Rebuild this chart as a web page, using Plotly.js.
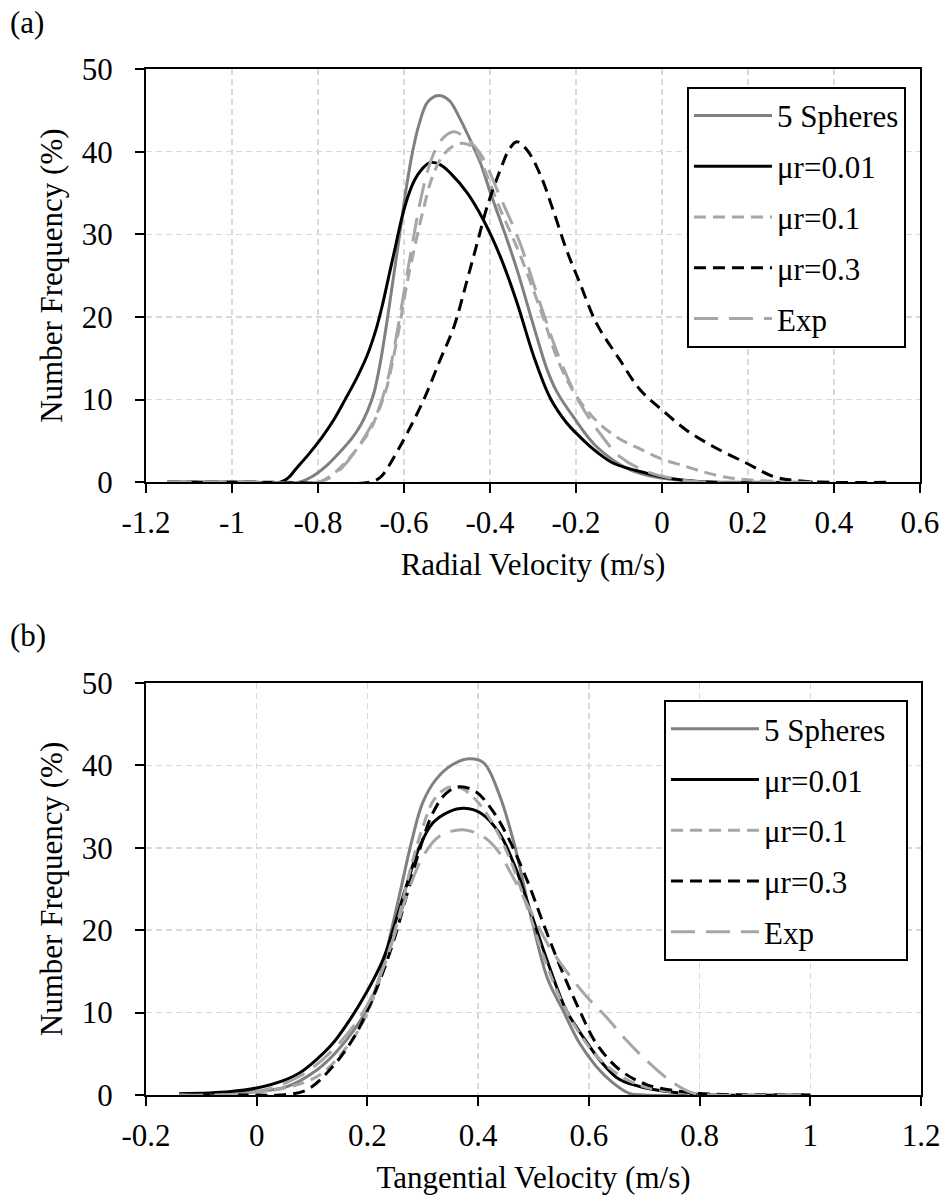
<!DOCTYPE html>
<html>
<head>
<meta charset="utf-8">
<script src="https://cdn.plot.ly/plotly-3.0.1.min.js"></script>
<style>
html,body{margin:0;padding:0;background:#fff;}
#chart{width:944px;height:1196px;}
</style>
</head>
<body>
<div id="chart"></div>
<script>
// ---------- DATA ----------
const seriesNames = ["5 Spheres", "\u03bcr=0.01", "\u03bcr=0.1", "\u03bcr=0.3", "Exp"];

// (a) Radial velocity
const radSph5X = [-1.15,-0.95,-0.845,-0.81,-0.78,-0.75,-0.72,-0.70,-0.685,-0.67,-0.655,-0.638,-0.624,-0.61,-0.595,-0.58,-0.565,-0.545,-0.52,-0.495,-0.47,-0.453,-0.422,-0.399,-0.368,-0.337,-0.298,-0.267,-0.245,-0.206,-0.152,-0.074,0.0,0.08,0.2,0.35];
const radSph5Y = [0,0,0,0.8,2.0,3.6,5.4,7.0,8.6,10.8,14.5,20,25,30,35.5,40,43.3,46,46.8,46.2,44,42.2,38.6,35,30.5,25.7,18.8,13.6,11,7.9,4.3,1.5,0.5,0.1,0,0];

const radMu001X = [-1.15,-0.95,-0.888,-0.87,-0.85,-0.82,-0.79,-0.764,-0.737,-0.71,-0.686,-0.665,-0.65,-0.635,-0.62,-0.605,-0.59,-0.575,-0.558,-0.539,-0.515,-0.492,-0.453,-0.415,-0.376,-0.337,-0.298,-0.26,-0.222,-0.191,-0.15,-0.113,-0.036,0.042,0.12,0.35];
const radMu001Y = [0,0,0,0.5,1.7,3.5,5.5,7.5,10,12.6,15.3,18.5,21.5,25,28.5,32,34.7,36.6,37.9,38.7,38.4,37.4,35,31.7,27.3,21.7,15.2,10.2,7.2,5.5,3.6,2.3,1.1,0.3,0,0];

const radMu01X = [-1.15,-0.95,-0.80,-0.77,-0.74,-0.71,-0.68,-0.66,-0.64,-0.625,-0.61,-0.595,-0.575,-0.555,-0.535,-0.51,-0.485,-0.46,-0.435,-0.41,-0.38,-0.33,-0.28,-0.24,-0.2,-0.15,-0.1,-0.05,0.0,0.05,0.1,0.15,0.2,0.3,0.4];
const radMu01Y = [0,0,0,0.8,2.2,4.0,6.2,8.5,11.5,15,19,23.5,28.5,33,36.8,39.5,40.7,41,40.3,37.5,33.5,27.5,20.5,14.5,10.5,7.3,5.3,4,2.8,2,1.2,0.6,0.3,0.05,0];

const radMu03X = [-1.15,-0.9,-0.68,-0.655,-0.635,-0.615,-0.593,-0.554,-0.516,-0.484,-0.453,-0.43,-0.407,-0.376,-0.355,-0.338,-0.314,-0.283,-0.253,-0.222,-0.191,-0.152,-0.098,-0.051,0.0,0.057,0.12,0.197,0.259,0.313,0.39,0.53];
const radMu03Y = [0,0,0,0.6,2.0,3.8,5.9,10,14.8,18.8,24.5,28.9,33.3,37.8,40.3,41.2,40.2,37.2,32.9,28.1,24.1,19.2,14.8,11.2,8.75,6.3,4.3,2.3,0.7,0.2,0,0];

const radExpX = [-1.15,-0.95,-0.80,-0.77,-0.74,-0.71,-0.68,-0.66,-0.64,-0.62,-0.60,-0.58,-0.56,-0.54,-0.515,-0.485,-0.46,-0.423,-0.377,-0.33,-0.284,-0.237,-0.191,-0.144,-0.098,-0.036,0.042,0.12,0.35];
const radExpY = [0,0,0,0.6,2.0,4.0,6.5,8.7,12,17,23,29,34.5,38.5,41.3,42.4,41.8,39.8,34.6,28.9,21.7,14.8,9.6,5.9,3.1,1.3,0.3,0,0];

// (b) Tangential velocity
const tanSph5X = [-0.14,-0.05,0,0.054,0.108,0.15,0.2,0.225,0.245,0.262,0.28,0.3,0.324,0.354,0.384,0.41,0.438,0.465,0.495,0.525,0.553,0.583,0.613,0.643,0.673,0.7,1.0];
const tanSph5Y = [0.1,0.2,0.45,1.0,3.0,5.7,10.5,15,20.5,25.5,30.8,35.5,38.3,40.1,40.8,40.3,36.5,30.5,21.8,14.2,10.3,6.3,3.5,1.5,0.2,0,0];

const tanMu001X = [-0.14,-0.05,0,0.054,0.078,0.108,0.138,0.168,0.198,0.228,0.246,0.27,0.294,0.318,0.348,0.375,0.405,0.438,0.468,0.498,0.529,0.559,0.589,0.619,0.655,0.703,0.764,0.824,1.0];
const tanMu001Y = [0.15,0.4,0.85,1.9,2.7,4.3,6.3,9.1,12.4,16.4,20,25.3,30.1,33,34.4,34.8,34.2,31.8,27.5,21.6,15.5,10.3,7.1,4.3,1.9,0.85,0.25,0,0];

const tanMu01X = [-0.14,0,0.108,0.168,0.2,0.25,0.28,0.3,0.32,0.345,0.37,0.40,0.43,0.46,0.49,0.52,0.55,0.58,0.62,0.66,0.7,0.75,0.8,0.9,1.0];
const tanMu01Y = [0,0.3,2.2,6.3,10,20,28,32.5,35.8,37.3,37.2,35.5,32.5,28.2,22.5,16.5,11.5,7.8,4.3,2.2,1.0,0.4,0.1,0,0];

const tanMu03X = [-0.14,0,0.042,0.09,0.138,0.18,0.216,0.246,0.27,0.294,0.318,0.342,0.366,0.396,0.426,0.453,0.49,0.52,0.553,0.583,0.613,0.655,0.703,0.764,0.824,0.9,1.0];
const tanMu03Y = [0,0,0,0.6,3.5,7.5,12.8,18.4,24,29.7,34.2,36.6,37.4,36.8,34.5,31.4,25.8,20.4,14.8,10.3,6.3,3.1,1.3,0.45,0.1,0,0];

const tanExpX = [-0.14,0,0.078,0.138,0.198,0.24,0.27,0.3,0.33,0.372,0.408,0.435,0.46,0.495,0.525,0.553,0.595,0.631,0.667,0.709,0.752,0.788,0.824,1.0];
const tanExpY = [0,0.4,2.3,5.5,10.7,17.6,24,28.9,31.4,32.2,31.4,29.7,26.8,22.3,18.4,15.6,12,9.5,6.7,3.9,1.5,0.25,0,0];

// Tick labels
const radTickVals = [-1.2,-1,-0.8,-0.6,-0.4,-0.2,0,0.2,0.4,0.6];
const radTickText = ["-1.2","-1","-0.8","-0.6","-0.4","-0.2","0","0.2","0.4","0.6"];
const tanTickVals = [-0.2,0,0.2,0.4,0.6,0.8,1,1.2];
const tanTickText = ["-0.2","0","0.2","0.4","0.6","0.8","1","1.2"];
const freqTickVals = [0,10,20,30,40,50];
const freqTickText = ["0","10","20","30","40","50"];

// ---------- STYLE ----------
const FONT = "Liberation Serif";
const FS = 31;
const styles = [
  {color:"#808080", dash:"solid"},
  {color:"#000000", dash:"solid"},
  {color:"#a6a6a6", dash:"12px,7px"},
  {color:"#000000", dash:"12px,7px"},
  {color:"#a6a6a6", dash:"24px,11px"}
];

const radSets = [[radSph5X,radSph5Y],[radMu001X,radMu001Y],[radMu01X,radMu01Y],[radMu03X,radMu03Y],[radExpX,radExpY]];
const tanSets = [[tanSph5X,tanSph5Y],[tanMu001X,tanMu001Y],[tanMu01X,tanMu01Y],[tanMu03X,tanMu03Y],[tanExpX,tanExpY]];

const traces = [];
radSets.forEach((s,i)=>{
  traces.push({x:s[0], y:s[1], type:"scatter", mode:"lines", name:seriesNames[i],
    xaxis:"x", yaxis:"y", legend:"legend", legendgroup:"a"+i,
    line:{color:styles[i].color, dash:styles[i].dash, width:3, shape:"spline", smoothing:1}});
});
tanSets.forEach((s,i)=>{
  traces.push({x:s[0], y:s[1], type:"scatter", mode:"lines", name:seriesNames[i] + (i===0 ? "\u00a0\u00a0" : ""),
    xaxis:"x2", yaxis:"y2", legend:"legend2", legendgroup:"b"+i,
    line:{color:styles[i].color, dash:styles[i].dash, width:3, shape:"spline", smoothing:1}});
});

const tf = {family:FONT, size:FS, color:"#000"};
const gridCommon = {showgrid:true, gridcolor:"#d9d9d9", gridwidth:1.5, griddash:"6px,4px", zeroline:false,
  showline:true, linecolor:"#000", linewidth:2, mirror:true, ticks:"outside", ticklen:9, tickwidth:2, tickcolor:"#000",
  tickfont:tf};
const crossCommon = {showgrid:false, zeroline:false, showline:false, ticks:"inside", ticklen:9, tickwidth:2,
  tickcolor:"#000", showticklabels:false, tickmode:"array"};

const layout = {
  width:944, height:1196,
  margin:{l:146, r:23, t:69, b:101},
  paper_bgcolor:"#fff", plot_bgcolor:"#fff",
  font:tf,
  showlegend:true,
  xaxis:Object.assign({}, gridCommon, {domain:[0,0.9987], anchor:"y", range:[-1.2,0.6], tickmode:"array",
    tickvals:radTickVals, ticktext:radTickText, ticklabelstandoff:3,
    title:{text:"Radial Velocity (m/s)", font:tf, standoff:14}}),
  yaxis:Object.assign({}, gridCommon, {domain:[0.5972,1], anchor:"x", range:[0,50], tickmode:"array",
    tickvals:freqTickVals, ticktext:freqTickText, ticklabelstandoff:16,
    title:{text:"Number Frequency (%)", font:tf, standoff:10}}),
  xaxis2:Object.assign({}, gridCommon, {domain:[0,1], anchor:"y2", range:[-0.2,1.2], tickmode:"array",
    tickvals:tanTickVals, ticktext:tanTickText, ticklabelstandoff:3,
    title:{text:"Tangential Velocity (m/s)", font:tf, standoff:14}}),
  yaxis2:Object.assign({}, gridCommon, {domain:[0,0.4016], anchor:"x2", range:[0,50], tickmode:"array",
    tickvals:freqTickVals, ticktext:freqTickText, ticklabelstandoff:16,
    title:{text:"Number Frequency (%)", font:tf, standoff:10}}),
  xaxis3:Object.assign({}, crossCommon, {overlaying:"x", anchor:"y", domain:[0,0.9987], range:[-1.2,0.6], tickvals:radTickVals}),
  yaxis3:Object.assign({}, crossCommon, {overlaying:"y", anchor:"x", domain:[0.5972,1], range:[0,50], tickvals:freqTickVals}),
  xaxis4:Object.assign({}, crossCommon, {overlaying:"x2", anchor:"y2", domain:[0,1], range:[-0.2,1.2], tickvals:tanTickVals}),
  yaxis4:Object.assign({}, crossCommon, {overlaying:"y2", anchor:"x2", domain:[0,0.4016], range:[0,50], tickvals:freqTickVals}),
  legend:{x:0.9806, y:0.9827, xanchor:"right", yanchor:"top", bgcolor:"#fff", bordercolor:"#000", borderwidth:2,
    font:tf, itemwidth:78, tracegroupgap:7.5, traceorder:"grouped"},
  legend2:{x:0.9832, y:0.385, xanchor:"right", yanchor:"top", bgcolor:"#fff", bordercolor:"#000", borderwidth:2,
    font:tf, itemwidth:88, tracegroupgap:7.5, traceorder:"grouped"},
  annotations:[
    {text:"(a)", xref:"paper", yref:"paper", x:-0.178, y:1.0458, xanchor:"left", yanchor:"middle", showarrow:false, font:tf},
    {text:"(b)", xref:"paper", yref:"paper", x:-0.178, y:0.4483, xanchor:"left", yanchor:"middle", showarrow:false, font:tf}
  ]
};

Plotly.newPlot("chart", traces, layout, {staticPlot:true, displayModeBar:false});
</script>
</body>
</html>
